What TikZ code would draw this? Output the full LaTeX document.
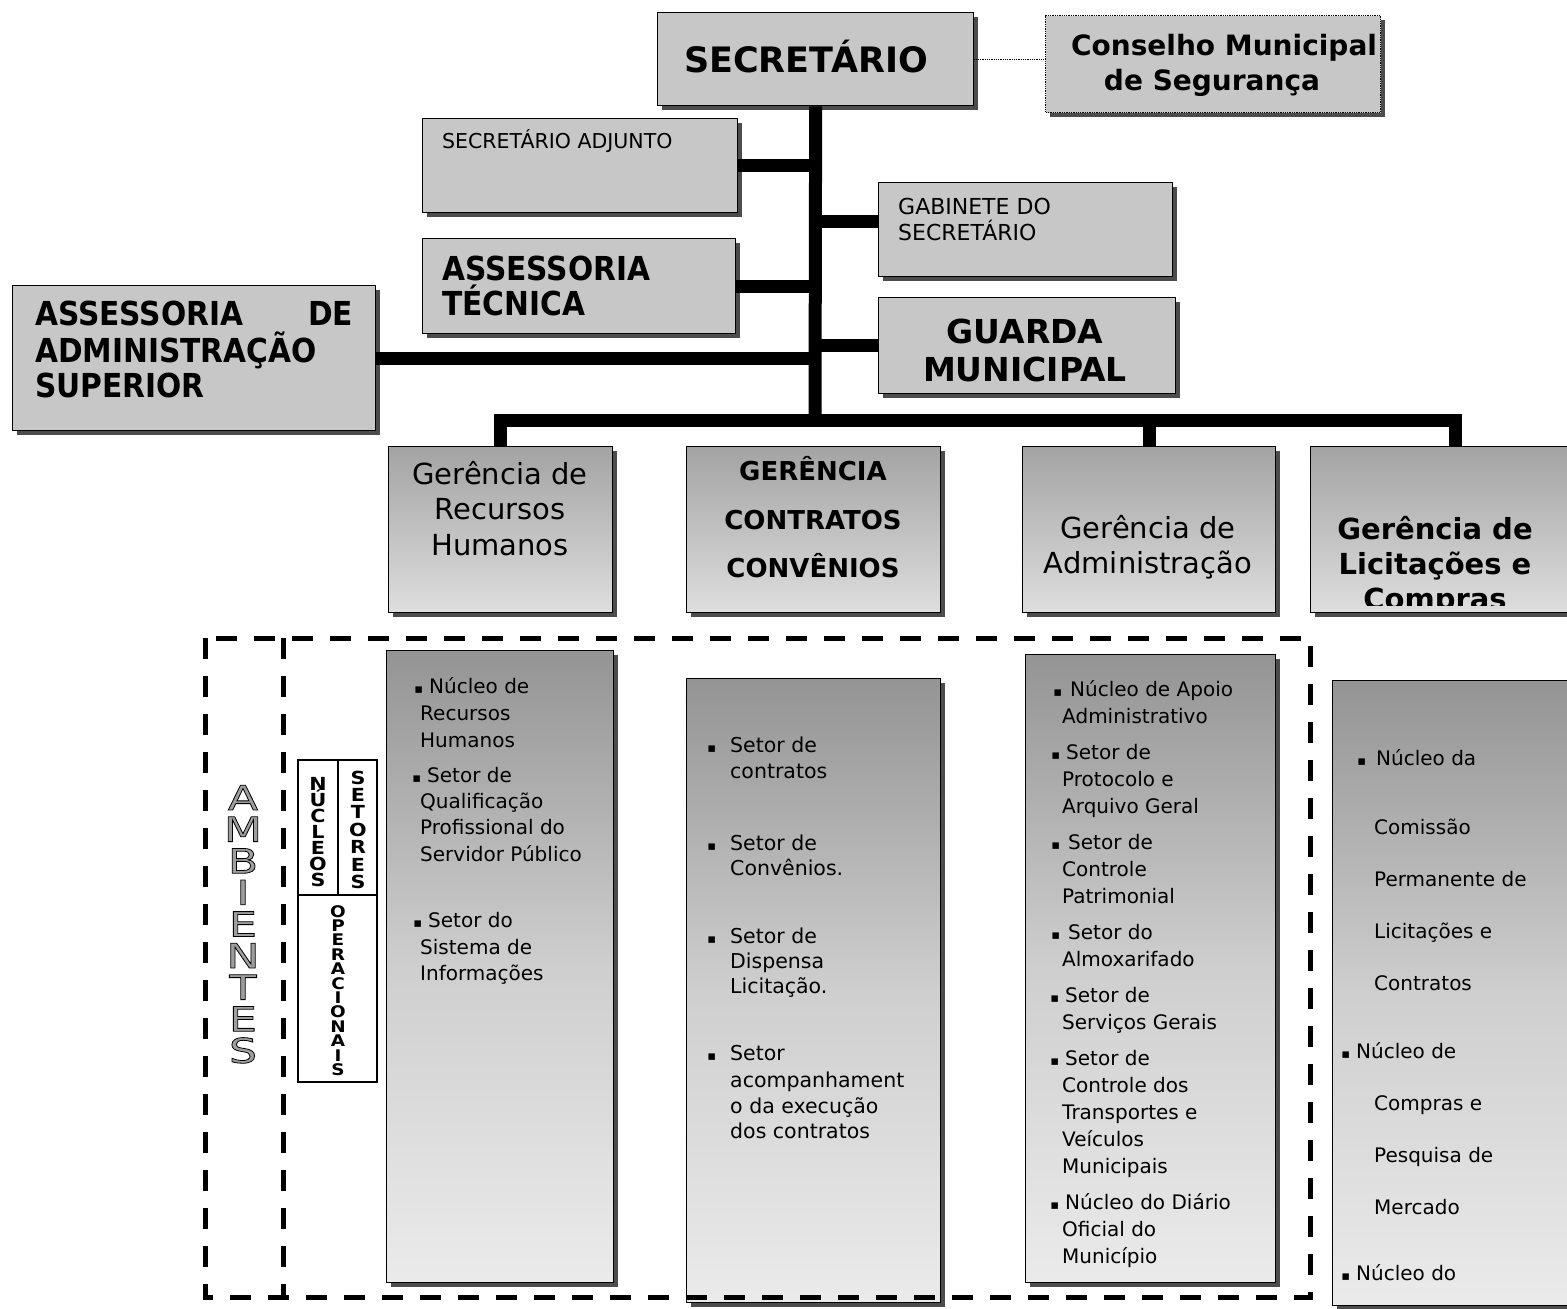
\documentclass[tikz,border=0pt]{standalone}
\usepackage{fontspec}
\setmainfont{DejaVu Sans}
\newfontfamily\tahoma{DejaVu Sans}[FakeStretch=0.9]
\newfontfamily\broad{DejaVu Sans}[FakeStretch=1.15]
\newfontfamily\ambfont{DejaVu Sans}[FakeStretch=1.3]
\usetikzlibrary{shadows}

% outline letters (stroke + grey fill)
\newcommand\hollow[1]{\special{pdf:literal 2 Tr 0.8 w 0.62 g}#1\special{pdf:literal 0 Tr 0 g}}
% list bullet, hung left of the text
\newcommand\bul[1][4pt]{\makebox[0pt][r]{{\fontsize{13}{13}\selectfont ▪}\hspace{#1}}}

\tikzset{
  box/.style={draw, line width=1.3pt, fill=black!22, inner sep=0pt, anchor=north west,
    general shadow={fill=black!70, shadow xshift=4pt, shadow yshift=-4pt}},
  gbox/.style={box, top color=black!36, bottom color=black!13},
  lbox/.style={box, top color=black!42, bottom color=black!8, middle color=black!19},
  link/.style={line width=13pt},
  lbl/.style={inner sep=0pt, anchor=base west},
  clbl/.style={inner sep=0pt, anchor=base},
  item/.style={lbl, font=\fontsize{20}{24}\selectfont},
  amb/.style={inner sep=0pt, anchor=base, font=\ambfont\fontsize{34}{34}\selectfont},
  tag/.style={inner sep=0pt, anchor=base, font=\broad\bfseries\fontsize{18}{18}\selectfont},
  zone/.style={line width=5pt, dash pattern=on 21pt off 17pt},
}

\begin{document}
\begin{tikzpicture}[x=1pt,y=-1pt]
  \path[use as bounding box, fill=white] (0,0) rectangle (1567,1309);

  % top level
  \node[box, minimum width=316pt, minimum height=93pt] (secr) at (657,12) {};
  \node[clbl, font=\bfseries\fontsize{35}{40}\selectfont] (tsecr) at (806,72) {SECRETÁRIO};
  \node[box, densely dotted, minimum width=335pt, minimum height=97pt] (cons) at (1045,15) {};
  \node[clbl, font=\bfseries\fontsize{28}{30}\selectfont] (tcons1) at (1224,55) {Conselho Municipal};
  \node[clbl, font=\bfseries\fontsize{28}{30}\selectfont] (tcons2) at (1212,90) {de Segurança};

  \node[box, minimum width=315pt, minimum height=94pt] (adj) at (422,118) {};
  \node[lbl, font=\fontsize{20.5}{24}\selectfont] (tadj) at (442,148) {SECRETÁRIO ADJUNTO};
  \node[box, minimum width=294pt, minimum height=94pt] (gab) at (878,182) {};
  \node[lbl, font=\fontsize{22}{26}\selectfont] (tgab1) at (898,214) {GABINETE DO};
  \node[lbl, font=\fontsize{22}{26}\selectfont] (tgab2) at (898,240) {SECRETÁRIO};
  \node[box, minimum width=313pt, minimum height=95pt] (atec) at (422,238) {};
  \node[lbl, font=\tahoma\bfseries\fontsize{33}{36}\selectfont] (tatec1) at (442,280) {ASSESSORIA};
  \node[lbl, font=\tahoma\bfseries\fontsize{33}{36}\selectfont] (tatec2) at (442,315) {TÉCNICA};
  \node[box, minimum width=363pt, minimum height=145pt] (ads) at (12,285) {};
  \node[lbl, font=\tahoma\bfseries\fontsize{33}{36}\selectfont] (tads1) at (35,325) {\hbox to 318pt{ASSESSORIA\hfill DE}};
  \node[lbl, font=\tahoma\bfseries\fontsize{33}{36}\selectfont] (tads2) at (35,362) {ADMINISTRAÇÃO};
  \node[lbl, font=\tahoma\bfseries\fontsize{33}{36}\selectfont] (tads3) at (35,397) {SUPERIOR};
  \node[box, minimum width=297pt, minimum height=96pt] (gua) at (878,297) {};
  \node[clbl, font=\bfseries\fontsize{33}{36}\selectfont] (tgua1) at (1025,343) {GUARDA};
  \node[clbl, font=\bfseries\fontsize{33}{36}\selectfont] (tgua2) at (1025,381) {MUNICIPAL};

  % gerencias
  \node[gbox, minimum width=224pt, minimum height=166pt] (grh) at (388,446) {};
  \node[gbox, minimum width=254pt, minimum height=166pt] (gcc) at (686,446) {};
  \node[gbox, minimum width=253pt, minimum height=166pt] (gadm) at (1022,446) {};
  \node[gbox, minimum width=290pt, minimum height=166pt] (glic) at (1310,446) {};
  \foreach \y/\txt [count=\i] in {484/Gerência de, 519/Recursos, 555/Humanos}
    \node[clbl, font=\fontsize{29}{32}\selectfont] (trh\i) at (500,\y) {\txt};
  \foreach \y/\txt [count=\i] in {480/GERÊNCIA, 529/CONTRATOS, 577/CONVÊNIOS}
    \node[clbl, font=\bfseries\fontsize{26}{30}\selectfont] (tcc\i) at (813,\y) {\txt};
  \foreach \y/\txt [count=\i] in {538/Gerência de, 573/Administração}
    \node[clbl, font=\fontsize{29}{32}\selectfont] (tadm\i) at (1148,\y) {\txt};
  \begin{scope}
    \clip (1310,446) rectangle (1600,605);
    \foreach \y/\txt [count=\i] in {539/Gerência de, 574/Licitações e, 609/Compras}
      \node[clbl, font=\bfseries\fontsize{29}{32}\selectfont] (tlic\i) at (1435,\y) {\txt};
  \end{scope}

  % lists
  \node[lbox, minimum width=227pt, minimum height=632pt] (lrh) at (386,650) {};
  \node[lbox, minimum width=254pt, minimum height=624pt] (lcc) at (686,678) {};
  \node[lbox, minimum width=250pt, minimum height=628pt] (ladm) at (1025,654) {};
  \node[lbox, minimum width=260pt, minimum height=625pt] (llic) at (1332,680) {};

  \foreach \x/\y/\txt [count=\i] in {429/693/\bul[6pt]Núcleo de, 420/720/Recursos, 420/747/Humanos,
      427/782/\bul[6pt]Setor de, 420/808/Qualificação, 420/834/Profissional do, 420/861/Servidor Público,
      428/927/\bul[6pt]Setor do, 420/954/Sistema de, 420/980/Informações}
    \node[item] (rh\i) at (\x,\y) {\txt};
  \foreach \y/\txt [count=\i] in {752/\bul[14pt]Setor de, 778/contratos,
      850/\bul[14pt]Setor de, 875/Convênios.,
      943/\bul[14pt]Setor de, 968/Dispensa, 993/Licitação.,
      1060/\bul[14pt]Setor, 1087/acompanhament, 1113/o da execução, 1138/dos contratos}
    \node[item, font=\fontsize{20.5}{24}\selectfont] (cc\i) at (730,\y) {\txt};
  \foreach \x/\y/\txt [count=\i] in {1070/696/\bul[8pt]Núcleo de Apoio, 1062/723/Administrativo,
      1066/759/\bul[6pt]Setor de, 1062/786/Protocolo e, 1062/813/Arquivo Geral,
      1068/849/\bul[8pt]Setor de, 1062/876/Controle, 1062/903/Patrimonial,
      1068/939/\bul[8pt]Setor do, 1062/966/Almoxarifado,
      1065/1002/\bul[6pt]Setor de, 1062/1029/Serviços Gerais,
      1065/1065/\bul[6pt]Setor de, 1062/1092/Controle dos, 1062/1119/Transportes e, 1062/1146/Veículos, 1062/1173/Municipais,
      1065/1209/\bul[6pt]Núcleo do Diário, 1062/1236/Oficial do, 1062/1263/Município}
    \node[item] (adm\i) at (\x,\y) {\txt};
  \foreach \x/\y/\txt [count=\i] in {1376/765/\bul[10pt]Núcleo da, 1374/834/Comissão, 1374/886/Permanente de,
      1374/938/Licitações e, 1374/990/Contratos,
      1356/1058/\bul[6pt]Núcleo de, 1374/1110/Compras e, 1374/1162/Pesquisa de, 1374/1214/Mercado,
      1356/1280/\bul[6pt]Núcleo do}
    \node[item] (lic\i) at (\x,\y) {\txt};

  % connectors
  \coordinate (bus) at (815,420);
  \coordinate (gabin) at ([yshift=8pt]gab.west);
  \draw[link] (secr.south) -- (bus);
  \draw[link] (adj.east) -- (adj.east -| secr.south);
  \draw[link] (gabin) -- (gabin -| secr.south);
  \draw[link] (atec.east) -- (atec.east -| secr.south);
  \draw[link] (gua.west) -- (gua.west -| secr.south);
  \draw[link] (ads.east) -- (ads.east -| secr.south);
  \draw[link] (grh.north) |- (bus) -| (glic.north);
  \draw[link] (gadm.north) -- (gadm.north |- bus);
  \draw[densely dotted, line width=0.8pt] (secr.east) -- (secr.east -| cons.west);

  % ambientes
  \draw[zone] (205,638) rectangle (1310,1297);
  \draw[zone] (283,638) -- (283,1297);
  \foreach \c [count=\i] in {A,M,B,I,E,N,T,E,S}
    \node[amb] (amb\i) at (243,{810+31.6*(\i-1)}) {\hollow{\c}};
  \draw[line width=1.2pt] (298,760) rectangle (377,1082);
  \draw[line width=1.2pt] (298,895) -- (377,895) (338,760) -- (338,895);
  \foreach \c [count=\i] in {N,Ú,C,L,E,O,S}
    \node[tag] (nuc\i) at (318,{790+16*(\i-1)}) {\c};
  \foreach \c [count=\i] in {S,E,T,O,R,E,S}
    \node[tag] (set\i) at (358,{784+17.4*(\i-1)}) {\c};
  \foreach \c [count=\i] in {O,P,E,R,A,C,I,O,N,A,I,S}
    \node[tag, font=\broad\bfseries\fontsize{16}{16}\selectfont] (ope\i) at (338,{917+14.4*(\i-1)}) {\c};
\end{tikzpicture}
\end{document}
